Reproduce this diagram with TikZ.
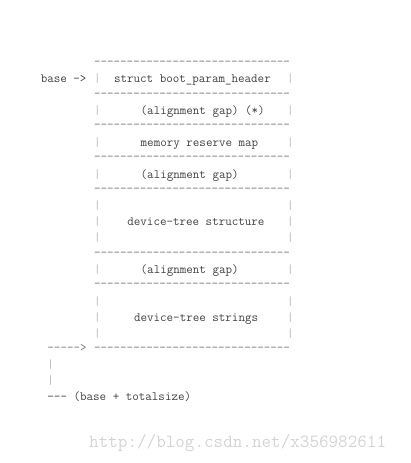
\documentclass[tikz,border=0pt]{standalone}
\usepackage{fontspec}
\usepackage{xcolor}
\usepackage{tikz}

\begin{document}
\begin{tikzpicture}[
  x=6.66pt, y=-15.9pt,
  glyph/.style={anchor=base west, inner sep=0pt, font=\ttfamily\fontsize{12.68pt}{12.7pt}\selectfont},
  ascii/.style={glyph, text=black!75, yshift=-1.5pt},
  rule/.style={glyph, text=black!55},
  bar/.style={glyph, text=black!28, yshift=-1.5pt},
  wmark/.style={glyph, text=black!17, font=\ttfamily\fontsize{18.6pt}{19pt}\selectfont}
]
\useasboundingbox (0pt,0pt) rectangle (410pt,-463pt);
\begin{scope}[shift={(7.3pt,-65.3pt)}]
% separators of the blob
\foreach \r in {0,2,4,6,8,12,14,18}
  \node[rule] (sep\r) at (13,\r) {------------------------------};
% side walls
\foreach \r in {1,3,5,7,9,10,11,13,15,16,17} {
  \node[bar] (lw\r) at (13,\r) {|};
  \node[bar] (rw\r) at (42,\r) {|};
}
\node[ascii] (base)  at (5,1)  {base ->};
\node[ascii] (hdr)   at (16,1) {struct boot\_param\_header};
\node[ascii] (gapA)  at (20,3) {(alignment gap) (*)};
\node[ascii] (rsv)   at (20,5) {memory reserve map};
\node[ascii] (gapB)  at (20,7) {(alignment gap)};
\node[ascii] (dts)   at (18,10) {device-tree structure};
\node[ascii] (gapC)  at (20,13) {(alignment gap)};
\node[ascii] (strs)  at (19,16) {device-tree strings};
% end of blob
\node[rule] (endarr) at (6,18) {----->};
\node[bar]  (endA)   at (6,19) {|};
\node[bar]  (endB)   at (6,20) {|};
\node[ascii] (total) at (6,21) {--- (base + totalsize)};
\end{scope}
\node[wmark] (url) at (89pt,-447pt) {http://blog.csdn.net/x356982611};
\end{tikzpicture}
\end{document}
